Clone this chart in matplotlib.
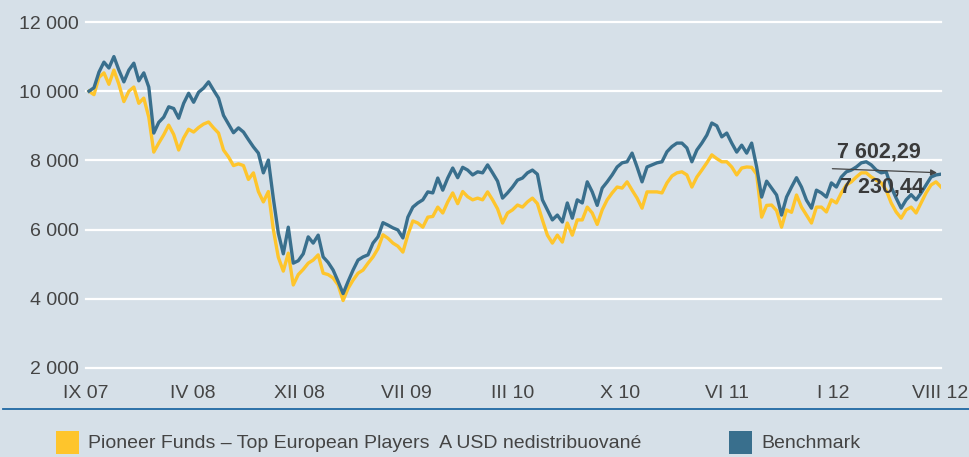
import matplotlib
matplotlib.use('Agg')
import matplotlib.pyplot as plt
from matplotlib.patches import Rectangle
import numpy as np

# values (weekly, start = 10 000)
fund = [10000, 9900, 10400, 10530, 10200, 10610, 10200, 9700, 10000, 10120,
        9650, 9800, 9250, 8240, 8500, 8740, 9020, 8750, 8300, 8650,
        8900, 8820, 8950, 9050, 9110, 8940, 8790, 8300, 8100, 7850,
        7900, 7850, 7450, 7640, 7100, 6800, 7100, 6000, 5200, 4800,
        5320, 4400, 4700, 4850, 5030, 5120, 5270, 4740, 4700, 4600,
        4400, 3950, 4300, 4540, 4740, 4830, 5030, 5210, 5450, 5850,
        5750, 5610, 5520, 5350, 5850, 6250, 6190, 6070, 6360, 6380,
        6650, 6480, 6800, 7060, 6750, 7100, 6950, 6860, 6910, 6860,
        7090, 6860, 6600, 6190, 6480, 6570, 6710, 6650, 6800, 6910,
        6750, 6280, 5840, 5610, 5840, 5640, 6190, 5840, 6280, 6280,
        6650, 6480, 6150, 6570, 6860, 7060, 7230, 7200, 7380, 7140,
        6910, 6620, 7090, 7090, 7090, 7060, 7350, 7550, 7640, 7670,
        7580, 7230, 7520, 7720, 7930, 8160, 8050, 7960, 7960, 7810,
        7580, 7780, 7810, 7800, 7600, 6360, 6700, 6710, 6550, 6070,
        6570, 6500, 7000, 6650, 6420, 6190, 6650, 6650, 6510, 6860,
        6770, 7060, 7290, 7380, 7520, 7640, 7640, 7520, 7430, 7350,
        7140, 6770, 6510, 6330, 6570, 6650, 6480, 6770, 7060, 7290,
        7380, 7230.44]

benchmark = [10000, 10100, 10550, 10840, 10670, 11000, 10610, 10270, 10610, 10810,
             10300, 10530, 10120, 8790, 9100, 9250, 9550, 9500, 9220, 9650,
             9940, 9680, 9970, 10090, 10270, 10030, 9800, 9300, 9050, 8800,
             8940, 8820, 8600, 8390, 8210, 7640, 8010, 6900, 5900, 5300,
             6070, 5030, 5100, 5300, 5790, 5610, 5840, 5210, 5050, 4830,
             4500, 4150, 4500, 4830, 5120, 5210, 5270, 5610, 5790, 6200,
             6130, 6050, 5990, 5760, 6360, 6650, 6770, 6860, 7090, 7060,
             7490, 7140, 7490, 7780, 7500, 7800, 7720, 7580, 7670, 7640,
             7870, 7640, 7400, 6910, 7060, 7230, 7430, 7490, 7640, 7720,
             7600, 6860, 6570, 6280, 6420, 6220, 6770, 6330, 6860, 6770,
             7380, 7090, 6700, 7200, 7380, 7580, 7810, 7930, 7960, 8210,
             7810, 7380, 7810, 7870, 7930, 7960, 8250, 8400, 8500, 8500,
             8360, 7960, 8300, 8500, 8730, 9080, 9000, 8680, 8790, 8500,
             8240, 8440, 8210, 8500, 7810, 6940, 7400, 7200, 7000, 6420,
             6940, 7230, 7500, 7230, 6850, 6620, 7140, 7060, 6940, 7350,
             7230, 7520, 7670, 7720, 7810, 7930, 7960, 7870, 7720, 7640,
             7670, 7230, 6910, 6620, 6860, 7010, 6860, 7060, 7290, 7520,
             7580, 7602.29]

x_labels = ['IX 07', 'IV 08', 'XII 08', 'VII 09', 'III 10', 'X 10', 'VI 11', 'I 12', 'VIII 12']
y_ticks = [2000, 4000, 6000, 8000, 10000, 12000]
y_labels = ['2 000', '4 000', '6 000', '8 000', '10 000', '12 000']
last_fund = '7 230,44'
last_bench = '7 602,29'
legend_names = ['Pioneer Funds \u2013 Top European Players  A USD nedistribuovan\u00e9', 'Benchmark']

bg = '#d6e0e8'
c_fund = '#fec52c'
c_bench = '#396f8d'
txt = '#444444'

plt.rcParams['font.family'] = ['Liberation Sans', 'DejaVu Sans']

W, H = 969, 457
fig = plt.figure(figsize=(W / 100, H / 100), dpi=100, facecolor=bg)
ax = fig.add_axes([86 / W, 1 - 368 / H, 855 / W, 346 / H])
ax.set_facecolor(bg)

x = np.arange(len(fund))
ax.plot(x, fund, color=c_fund, lw=2.4, zorder=3)
ax.plot(x, benchmark, color=c_bench, lw=2.4, zorder=4)

ax.set_xlim(0, len(fund) - 1)
ax.set_ylim(2000, 12000)

for y in y_ticks:
    ax.axhline(y, color='white', lw=1.6, zorder=1, clip_on=False)

ax.set_yticks(y_ticks)
ax.set_yticklabels(y_labels, fontsize=14, color=txt)
ax.set_xticks(np.linspace(-0.6, 170.8, len(x_labels)))
ax.set_xticklabels(x_labels, fontsize=14, color=txt)
ax.tick_params(axis='y', length=0, pad=5)
ax.tick_params(axis='x', length=0, pad=12)
for s in ax.spines.values():
    s.set_visible(False)

# end values
ax.annotate('', xy=(170.2, 7645), xytext=(149.2, 7760),
            arrowprops=dict(arrowstyle='-|>', color='#444444', lw=0.9,
                            mutation_scale=9, shrinkA=0, shrinkB=0), zorder=6)
ax.text(158.6, 8243, last_bench, ha='center', va='center', fontsize=15.5,
        fontweight='bold', color='#3a3a3a', zorder=7)
ax.text(159.2, 7231, last_fund, ha='center', va='center', fontsize=15.5,
        fontweight='bold', color='#3a3a3a', zorder=7)

# separator line
fig.add_artist(plt.Line2D([3 / W, 1], [1 - 409 / H, 1 - 409 / H],
                          color='#1f68a3', lw=1.3))

# legend
for px, col, name in [(56, c_fund, legend_names[0]), (729, c_bench, legend_names[1])]:
    fig.add_artist(Rectangle((px / W, 1 - 454 / H), 23 / W, 23 / H,
                             facecolor=col, edgecolor='none'))
    fig.text((px + 32) / W, 1 - 443 / H, name, fontsize=14, color=txt,
             va='center', ha='left')

fig.savefig('out.png', dpi=100, facecolor=bg)
